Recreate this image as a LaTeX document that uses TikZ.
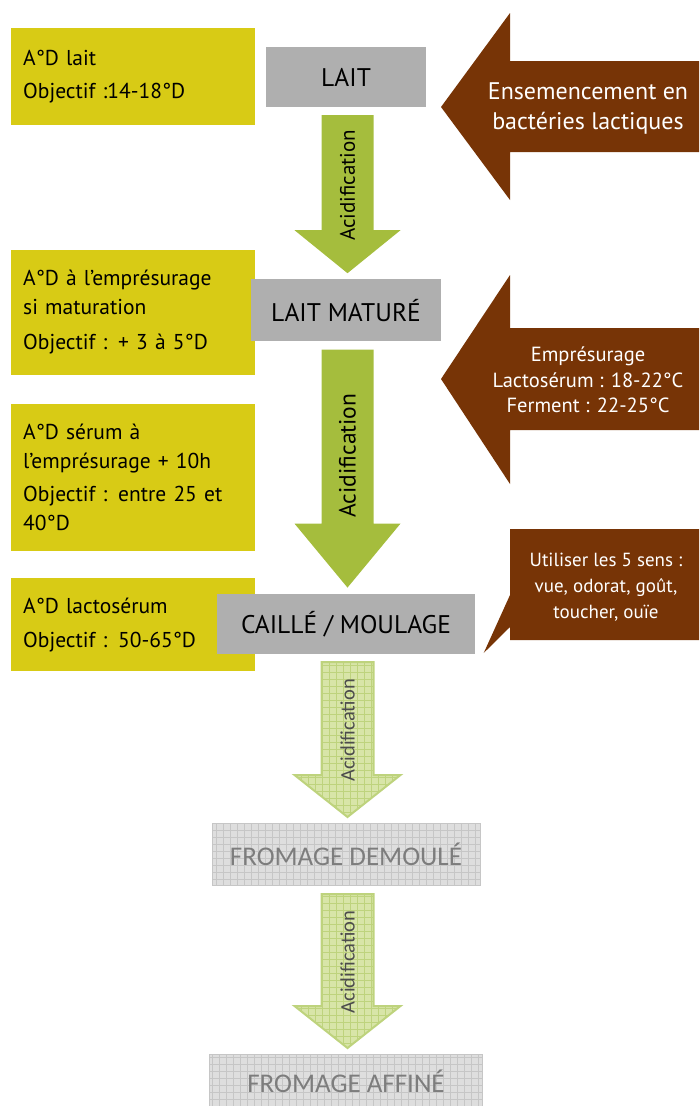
\documentclass[tikz,border=0pt]{standalone}
\usepackage{fontspec}
\setmainfont{PT Sans}
\newfontfamily\ghostfont{Carlito}
\usetikzlibrary{positioning,calc}
\definecolor{infoyellow}{RGB}{216,203,21}
\definecolor{stepgray}{RGB}{175,175,175}
\definecolor{acidgreen}{RGB}{165,189,61}
\definecolor{brownarrow}{RGB}{119,52,6}
\definecolor{ghostgreen}{RGB}{216,229,168}
\definecolor{ghostgreenline}{RGB}{190,211,125}
\definecolor{ghostgray}{RGB}{222,222,222}
\definecolor{ghostgrayline}{RGB}{198,198,198}
\definecolor{ghosttext}{RGB}{125,125,125}
\tikzset{
  infobox/.style={fill=infoyellow, minimum width=244pt, text width=220pt, inner xsep=12pt,
                  inner ysep=0pt, align=left, font=\fontsize{21.5}{29}\selectfont},
  stepbox/.style={fill=stepgray, inner sep=0pt, font=\fontsize{25.5}{30}\selectfont},
  ghostbox/.style={fill=ghostgray, draw=ghostgrayline, line width=1pt, inner sep=0pt,
                  text=ghosttext, font=\ghostfont\fontsize{27}{30}\selectfont,
                  path picture={\draw[ghostgrayline, line width=0.5pt]
                    (path picture bounding box.south west) grid[step=7pt] (path picture bounding box.north east);}},
  acidarrow/.style={fill=acidgreen},
  ghostarrow/.style={fill=ghostgreen, draw=ghostgreenline, line width=2pt,
                  path picture={\draw[ghostgreenline, line width=0.5pt]
                    (path picture bounding box.south west) grid[step=7pt] (path picture bounding box.north east);}},
  acidtext/.style={rotate=90, inner sep=0pt},
  ghostacid/.style={rotate=90, inner sep=0pt, text=black!70, font=\ghostfont\fontsize{20.5}{25}\selectfont},
  brownfill/.style={fill=brownarrow},
  browntext/.style={text=white, align=center, inner sep=0pt},
}
% block arrow pointing down from one step to the next: style, from, to, head length
\newcommand{\blockdown}[4]{%
  \path[#1] let \p1=($(#2.south)+(1.5,8)$), \p2=($(#3.north)+(1.5,-6)$) in
    (\x1-26pt,\y1) -- (\x1+26pt,\y1) -- (\x1+26pt,\y2+#4) -- (\x1+53pt,\y2+#4)
    -- (\x1,\y2) -- (\x1-53pt,\y2+#4) -- (\x1-26pt,\y2+#4) -- cycle;}

\begin{document}
\begin{tikzpicture}[x=1pt, y=-1pt]
  \useasboundingbox (0,0) rectangle (699,1106);
  % acidity checks
  \node[infobox, minimum height=97pt, anchor=north west] (info1) at (11,28) {A°D lait\\[4pt] Objectif :14-18°D};
  \node[infobox, minimum height=125pt, below=124pt of info1] (info2) {A°D à l’emprésurage\\ si maturation\\[6pt] Objectif : + 3 à 5°D};
  \node[infobox, minimum height=147pt, below=29pt of info2] (info3) {A°D sérum à\\ l’emprésurage + 10h\\[4pt] Objectif : entre 25 et\\ 40°D};
  \node[infobox, minimum height=93pt, below=27pt of info3] (info4) {A°D lactosérum\\[5pt] Objectif : 50-65°D};

  % steps
  \node[stepbox, minimum width=160pt, minimum height=60pt] (lait) at (346,77) {LAIT};
  \node[stepbox, minimum width=190pt, minimum height=62pt, below=172pt of lait] (mature) {LAIT MATURÉ};
  \node[stepbox, minimum width=258pt, minimum height=60pt, below=252pt of mature] (caille) {CAILLÉ / MOULAGE};
  \node[ghostbox, minimum width=268pt, minimum height=62pt, below=169pt of caille] (demoule) {FROMAGE DEMOULÉ};
  \node[ghostbox, minimum width=273pt, minimum height=53pt, below=168pt of demoule] (affine) {FROMAGE AFFINÉ};

  \blockdown{acidarrow}{lait}{mature}{43pt}
  \blockdown{acidarrow}{mature}{caille}{64pt}
  \blockdown{ghostarrow}{caille}{demoule}{42pt}
  \blockdown{ghostarrow}{demoule}{affine}{42pt}
  \node[acidtext, font=\fontsize{21}{25}\selectfont] (acid1) at ($(lait.south)!0.5!(mature.north)+(1.5,-8)$) {Acidification};
  \node[acidtext, font=\fontsize{23.5}{25}\selectfont] (acid2) at ($(mature.south)!0.5!(caille.north)+(1.5,-12)$) {Acidification};
  \node[ghostacid] (acid3) at ($(caille.south)!0.5!(demoule.north)+(1.5,-8)$) {Acidification};
  \node[ghostacid] (acid4) at ($(demoule.south)!0.5!(affine.north)+(1.5,-8)$) {Acidification};

  % inputs
  \fill[brownfill] (699,61) -- (510,61) -- (510,13) -- (441,107) -- (510,200) -- (510,152) -- (699,152) -- cycle;
  \node[browntext, font=\fontsize{24}{30}\selectfont] (seed) at (588,108) {Ensemencement en\\ bactéries lactiques};
  \fill[brownfill] (699,328) -- (510,328) -- (510,275) -- (441,379) -- (510,484) -- (510,430) -- (699,430) -- cycle;
  \node[browntext, font=\fontsize{20.5}{25.5}\selectfont] (rennet) at (588,380) {Emprésurage\\ Lactosérum : 18-22°C\\ Ferment : 22-25°C};
  \coordinate (sensetip) at ($(caille.south east)+(8.5,-1)$);
  \fill[brownfill] (510,529) -- (699,529) -- (699,640) -- (510,640) -- (510,627) -- (sensetip) -- (510,595) -- cycle;
  \node[browntext, font=\fontsize{19}{26}\selectfont] (senses) at (606,587) {Utiliser les 5 sens :\\ vue, odorat, goût,\\ toucher, ouïe};
\end{tikzpicture}
\end{document}
